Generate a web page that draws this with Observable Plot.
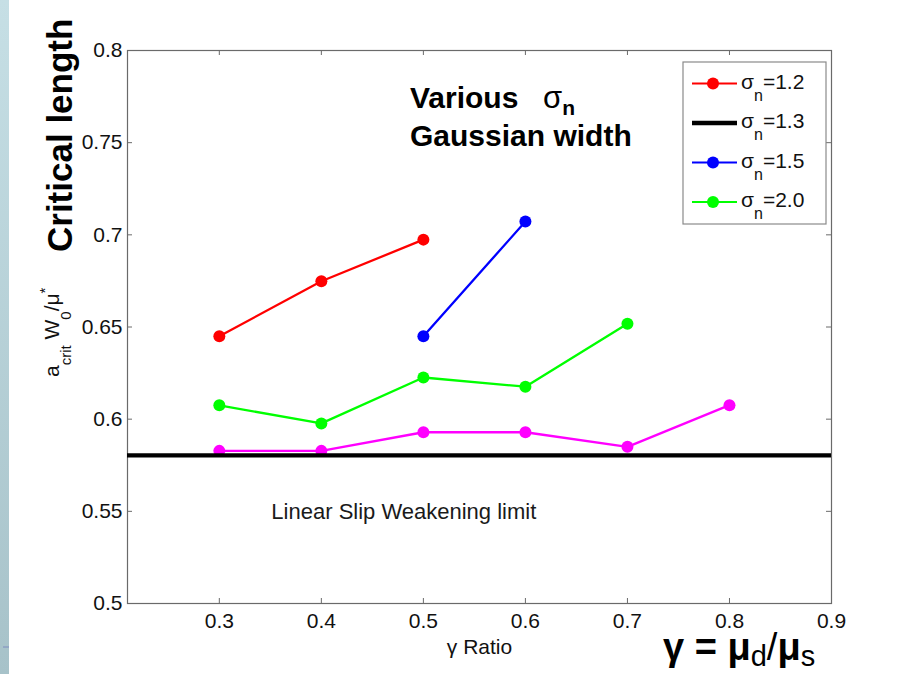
<!DOCTYPE html>
<html><head><meta charset="utf-8">
<script src="https://cdn.jsdelivr.net/npm/d3@7"></script>
<script src="https://cdn.jsdelivr.net/npm/@observablehq/plot@0.6"></script>
<style>
html,body{margin:0;padding:0;background:#fff;}
#chart{position:relative;width:912px;height:674px;overflow:hidden;}
#chart svg{display:block;}
</style>
</head><body><div id="chart"></div>
<script>
// ---- data ----
const gammaTicks = [0.3, 0.4, 0.5, 0.6, 0.7, 0.8, 0.9];
const critTicks = [0.5, 0.55, 0.6, 0.65, 0.7, 0.75, 0.8];

const gammaSigma12 = [0.3, 0.4, 0.5];
const critSigma12 = [0.645, 0.6748, 0.6974];

const gammaSigma15 = [0.5, 0.6];
const critSigma15 = [0.645, 0.7072];

const gammaSigma20 = [0.3, 0.4, 0.5, 0.6, 0.7];
const critSigma20 = [0.6075, 0.5977, 0.6226, 0.6176, 0.6518];

const gammaMagenta = [0.3, 0.4, 0.5, 0.6, 0.7, 0.8];
const critMagenta = [0.5828, 0.5828, 0.5929, 0.5929, 0.585, 0.6076];

const critSigma13 = [0.5804]; // σn=1.3, linear slip weakening limit

const legendLabels = ["1.2", "1.3", "1.5", "2.0"];
const legendColors = ["#ff0000", "#000000", "#0000ff", "#00ff00"];
const legendDots = [true, false, true, true];

const limitLabel = ["Linear Slip Weakening limit"];

// ---- build tables ----
const series = [
  {name: "σn=1.2", color: "#ff0000", xs: gammaSigma12, ys: critSigma12},
  {name: "σn=1.5", color: "#0000ff", xs: gammaSigma15, ys: critSigma15},
  {name: "σn=2.0", color: "#00ff00", xs: gammaSigma20, ys: critSigma20},
  {name: "other", color: "#ff00ff", xs: gammaMagenta, ys: critMagenta}
].map(s => ({...s, rows: s.xs.map((x, i) => ({x, y: s.ys[i]}))}));

const FONT = "'Liberation Sans', Arial, Helvetica, sans-serif";
const W = 912, H = 674;
const M = {top: 50, right: 81, bottom: 71, left: 127};
const FW = W - M.left - M.right, FH = H - M.top - M.bottom;
const axisColor = "#6a6a6a";

function overlay(index, scales, values, dims) {
  const g = d3.create("svg:g").attr("font-family", FONT).attr("text-anchor", "start").style("white-space", "pre");
  const defs = g.append("defs");
  const grad = defs.append("linearGradient").attr("id", "stripeGrad")
    .attr("x1", 0).attr("y1", 0).attr("x2", 0).attr("y2", 1);
  grad.append("stop").attr("offset", "0%").attr("stop-color", "#c6dfe5");
  grad.append("stop").attr("offset", "100%").attr("stop-color", "#a7c2c9");
  g.append("rect").attr("x", 0).attr("y", 0).attr("width", 9).attr("height", dims.height).attr("fill", "url(#stripeGrad)");
  g.append("line").attr("x1", 3).attr("x2", 9).attr("y1", 647).attr("y2", 647).attr("stroke", "#7f8cbf").attr("stroke-width", 1);

  // Critical length (rotated)
  g.append("text").attr("transform", "translate(72,252) rotate(-90)")
    .attr("font-size", 35).attr("font-weight", "bold").attr("fill", "#000")
    .text("Critical length");

  // y-axis label a_crit W_0/μ*
  const yl = g.append("text").attr("transform", "translate(59,377) rotate(-90)")
    .attr("font-size", 21).attr("fill", "#111");
  yl.append("tspan").text("a");
  yl.append("tspan").attr("font-size", 15).attr("dy", 12).text("crit");
  yl.append("tspan").attr("dy", -12).text(" W");
  yl.append("tspan").attr("font-size", 15).attr("dy", 12).text("0");
  yl.append("tspan").attr("dy", -12).text("/μ");
  yl.append("tspan").attr("font-size", 15).attr("dy", -9).text("*");

  // Various σn / Gaussian width
  const v = g.append("text").attr("x", 410).attr("y", 108).attr("font-size", 30).attr("font-weight", "bold").attr("fill", "#000");
  v.append("tspan").text("Various");
  v.append("tspan").attr("x", 543).attr("font-weight", "normal").attr("font-size", 31).text("σ");
  v.append("tspan").attr("font-size", 21).attr("dy", 7).text("n");
  g.append("text").attr("x", 410).attr("y", 146).attr("font-size", 30).attr("font-weight", "bold").attr("fill", "#000")
    .text("Gaussian width");

  // γ = μd/μs
  const gm = g.append("text").attr("x", 663).attr("y", 660).attr("font-size", 38).attr("font-weight", "bold").attr("fill", "#000");
  gm.append("tspan").text("γ = μ");
  gm.append("tspan").attr("font-size", 29).attr("font-weight", "normal").attr("dy", 6).text("d");
  gm.append("tspan").attr("dy", -6).attr("font-weight", "normal").text("/");
  gm.append("tspan").text("μ");
  gm.append("tspan").attr("font-size", 29).attr("font-weight", "normal").attr("dy", 6).text("s");

  // legend
  const right = dims.width - dims.marginRight;
  const bx = right - 148, by = dims.marginTop + 12, bw = 143, bh = 162;
  g.append("rect").attr("x", bx).attr("y", by).attr("width", bw).attr("height", bh)
    .attr("fill", "#fff").attr("stroke", "#8a8a8a").attr("stroke-width", 1.2);
  legendLabels.forEach((lab, i) => {
    const cy = by + 21.5 + i * 39.5;
    g.append("line").attr("x1", bx + 9).attr("x2", bx + 54).attr("y1", cy).attr("y2", cy)
      .attr("stroke", legendColors[i]).attr("stroke-width", legendDots[i] ? 2.2 : 4.5);
    if (legendDots[i]) g.append("circle").attr("cx", bx + 30).attr("cy", cy).attr("r", 6).attr("fill", legendColors[i]);
    const t = g.append("text").attr("x", bx + 58).attr("y", cy + 5).attr("font-size", 21).attr("fill", "#111");
    t.append("tspan").text("σ");
    t.append("tspan").attr("font-size", 16).attr("dy", 12).text("n");
    t.append("tspan").attr("dy", -12).text("=" + lab);
  });
  return g.node();
}

const marks = [
  Plot.frame({stroke: axisColor, strokeWidth: 1.2}),
  Plot.tickX(gammaTicks, {x: d => d, insetTop: FH - 5, stroke: axisColor}),
  Plot.tickX(gammaTicks, {x: d => d, insetBottom: FH - 5, stroke: axisColor}),
  Plot.tickY(critTicks, {y: d => d, insetRight: FW - 5, stroke: axisColor}),
  Plot.tickY(critTicks, {y: d => d, insetLeft: FW - 5, stroke: axisColor}),
  Plot.axisX({ticks: gammaTicks, tickSize: 0, tickPadding: 10, tickFormat: d => `${d}`, fontSize: 21,
    label: "γ Ratio", labelAnchor: "center", labelOffset: 50, labelArrow: "none"}),
  Plot.axisY({ticks: critTicks, tickSize: 0, tickPadding: 5, tickFormat: d => `${d}`, fontSize: 21, label: null}),
  ...series.flatMap(s => [
    Plot.line(s.rows, {x: "x", y: "y", stroke: s.color, strokeWidth: 2.3}),
    Plot.dot(s.rows, {x: "x", y: "y", r: 6, fill: s.color, stroke: "none"})
  ]),
  Plot.ruleY(critSigma13, {y: d => d, stroke: "#000", strokeWidth: 4.3}),
  Plot.text(limitLabel, {text: d => d, x: () => 0.351, y: () => 0.5495, textAnchor: "start", fontSize: 22, fill: "#1a1a1a"}),
  overlay
];

const chart = Plot.plot({
  width: W, height: H,
  marginTop: M.top, marginRight: M.right, marginBottom: M.bottom, marginLeft: M.left,
  style: {fontFamily: FONT, fontSize: "21px", color: "#111", background: "transparent", overflow: "visible"},
  x: {domain: [0.21, 0.9]},
  y: {domain: [0.5, 0.8]},
  marks
});
document.getElementById("chart").appendChild(chart);
</script>
</body></html>
